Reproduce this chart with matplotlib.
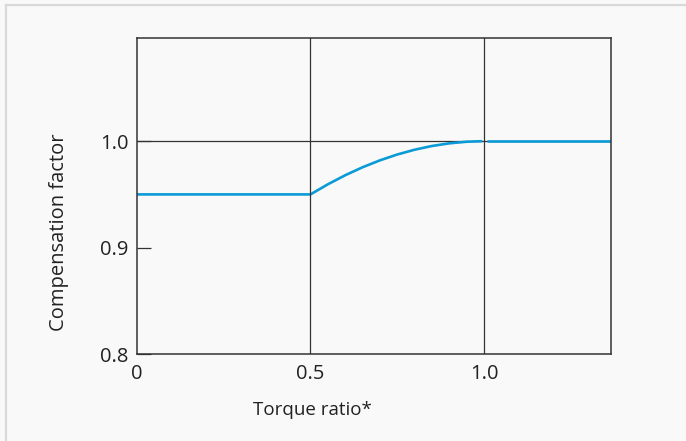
import matplotlib
matplotlib.use("Agg")
import matplotlib.pyplot as plt
from matplotlib.lines import Line2D

plt.rcParams['font.family'] = ['Open Sans', 'DejaVu Sans']

# Data
flat_x = [0.0, 0.5]
flat_y = [0.95, 0.95]
curve_x = [0.5, 0.55, 0.6, 0.65, 0.7, 0.75, 0.8, 0.85, 0.9, 0.95, 0.995]
curve_y = [0.95, 0.9595, 0.968, 0.9755, 0.982, 0.9875, 0.992, 0.9955, 0.998, 0.9995, 1.0]
tail_x = [1.01, 1.366]
tail_y = [1.0, 1.0]

x_ticks = [0, 0.5, 1.0]
x_tick_labels = ['0', '0.5', '1.0']
y_ticks = [0.8, 0.9, 1.0]
y_tick_labels = ['0.8', '0.9', '1.0']
v_lines = [0.5, 1.0]
h_lines = [1.0]

BG = '#f9f9f9'
DARK = '#333333'
BLUE = '#0a9bd6'

fig = plt.figure(figsize=(6.86, 4.41), dpi=100, facecolor=BG)
ax = fig.add_axes([137/686, 1-354/441, (611-137)/686, (354-38)/441])
ax.set_facecolor(BG)

ax.set_xlim(0, 1.366)
ax.set_ylim(0.8, 1.097)

for v in v_lines:
    ax.axvline(v, color=DARK, lw=0.9, zorder=3)
for h in h_lines:
    ax.axhline(h, color=DARK, lw=0.9, zorder=1)

ax.plot(flat_x + curve_x[1:], flat_y + curve_y[1:], color=BLUE, lw=1.9, zorder=2,
        solid_capstyle='butt')
ax.plot(tail_x, tail_y, color=BLUE, lw=1.9, zorder=2, solid_capstyle='butt')

for s in ax.spines.values():
    s.set_color(DARK)
    s.set_linewidth(1.1)

ax.set_xticks(x_ticks)
ax.set_xticklabels(x_tick_labels)
ax.set_yticks(y_ticks)
ax.set_yticklabels(y_tick_labels)
ax.tick_params(axis='x', length=0, pad=7, labelsize=14.5, colors='#222222')
ax.tick_params(axis='y', direction='in', length=10, width=0.9, pad=6, labelsize=14.5,
               colors=DARK, labelcolor='#222222')

ax.set_xlabel('Torque ratio*', fontsize=13.5, color='#222222')
ax.set_ylabel('Compensation factor', fontsize=14.5, color='#222222')
ax.xaxis.set_label_coords((312-137)/474, -(410-354)/316)
ax.yaxis.set_label_coords(-(137-59)/474, (354-232)/316)
ax.xaxis.label.set_va('center')
ax.yaxis.label.set_va('center')

# outer border (top and left)
fig.add_artist(Line2D([6/686, 6/686], [0, 1-5/441], transform=fig.transFigure,
                      color='#d9d9d9', lw=1.6))
fig.add_artist(Line2D([6/686, 1], [1-5/441, 1-5/441], transform=fig.transFigure,
                      color='#d9d9d9', lw=1.6))

fig.savefig('out.png', dpi=100, facecolor=BG)
